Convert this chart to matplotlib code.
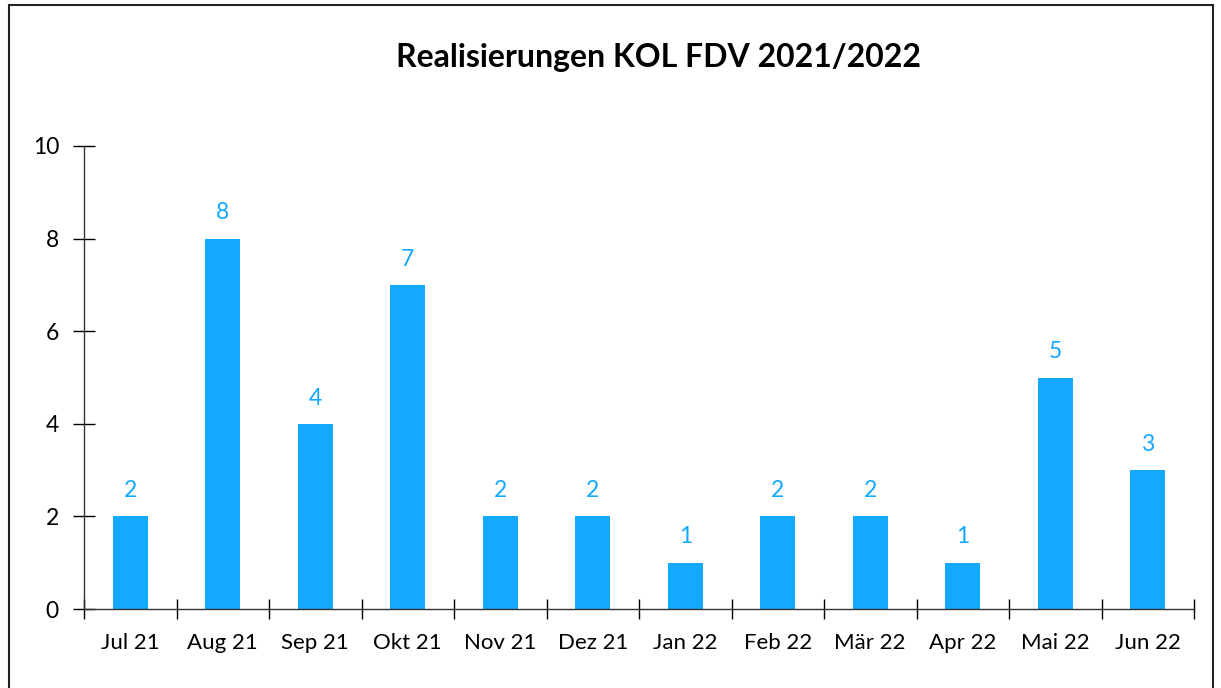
import matplotlib.pyplot as plt
from matplotlib.patches import Rectangle

# Daten
monate = ['Jul 21', 'Aug 21', 'Sep 21', 'Okt 21', 'Nov 21', 'Dez 21',
          'Jan 22', 'Feb 22', 'Mär 22', 'Apr 22', 'Mai 22', 'Jun 22']
werte = [2, 8, 4, 7, 2, 2, 1, 2, 2, 1, 5, 3]

blau = '#14a9ff'
W, H = 1221, 688

plt.rcParams['font.family'] = ['Lato', 'DejaVu Sans']

fig = plt.figure(figsize=(W / 100, H / 100), dpi=100)
ax = fig.add_axes([84 / W, 1 - 609 / H, (1194 - 84) / W, (609 - 146) / H])

# Rahmen um die Grafik
fig.patches.append(Rectangle((9 / W, -0.05), (1213 - 9) / W, 1.05 - 5 / H,
                             transform=fig.transFigure, fill=False,
                             edgecolor='#222222', linewidth=1.5))

x = range(len(monate))
ax.bar(x, werte, width=0.38, color=blau)
for i, v in zip(x, werte):
    ax.text(i, v + 0.33, str(v), ha='center', va='bottom', color=blau, fontsize=16.5)

ax.set_xlim(-0.5, len(monate) - 0.5)
ax.set_ylim(0, 10)
ax.set_yticks(range(0, 11, 2))
ax.set_xticks([i - 0.5 for i in range(len(monate) + 1)])
ax.set_xticklabels([])
ax.set_xticks(list(x), minor=True)
ax.set_xticklabels(monate, minor=True)
ax.tick_params(axis='x', which='minor', length=0, pad=17, labelsize=16)
ax.tick_params(axis='x', which='major', direction='inout', length=14, width=1)
ax.tick_params(axis='y', direction='inout', length=16, width=1, labelsize=16.5, pad=10)

for s in ['top', 'right']:
    ax.spines[s].set_visible(False)
for s in ['left', 'bottom']:
    ax.spines[s].set_linewidth(1)
    ax.spines[s].set_color('#333333')

fig.text(659 / W, 1 - 57 / H, 'Realisierungen KOL FDV 2021/2022', ha='center', va='center',
         fontsize=23, fontweight='bold')

fig.savefig('out.png', dpi=100)
